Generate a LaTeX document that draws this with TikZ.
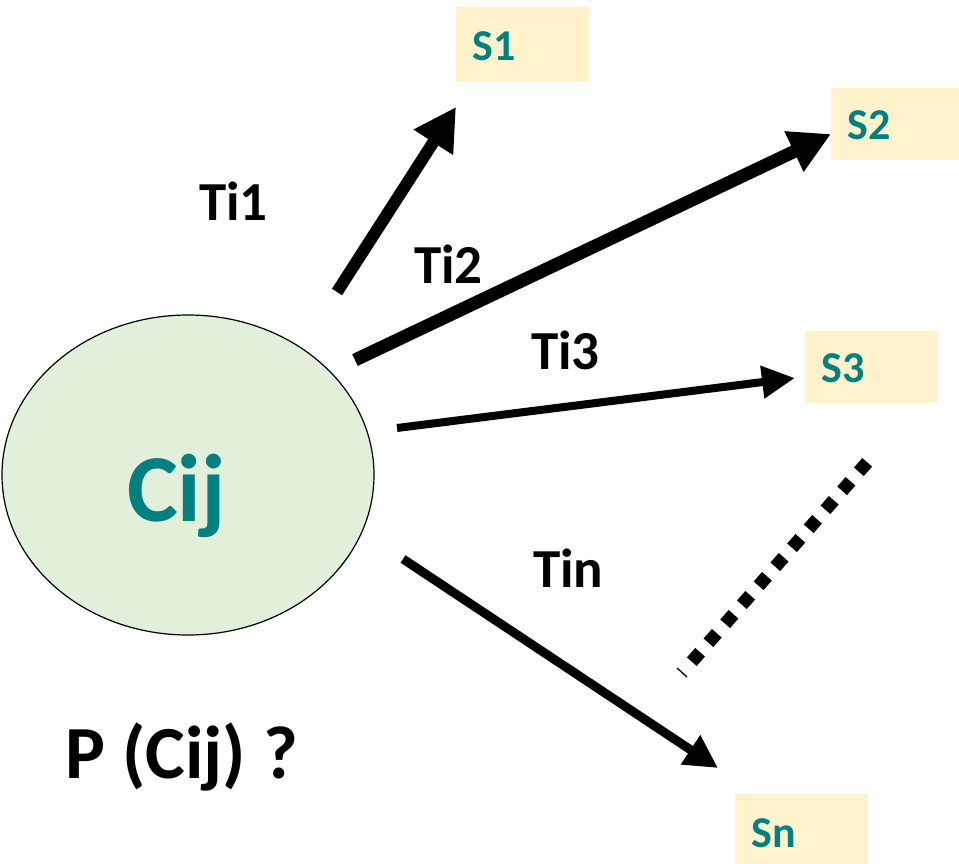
\documentclass[tikz,border=0pt]{standalone}
\usepackage{fontspec}
\setmainfont{Carlito}
\usetikzlibrary{arrows.meta,shapes.geometric}
\definecolor{tealtext}{HTML}{008080}
\definecolor{statefill}{HTML}{FFF2CC}
\definecolor{classfill}{HTML}{E2EFDA}
\tikzset{
  statebox/.style={fill=statefill, draw=none, minimum width=#1, minimum height=72pt, inner sep=0pt},
  statelabel/.style={anchor=base west, inner sep=0pt, text=tealtext, font=\fontsize{44}{44}\selectfont\bfseries},
  translabel/.style={anchor=base west, inner sep=0pt, font=\fontsize{55}{55}\selectfont\bfseries},
  transarrow/.style={draw=black, line width=#1, line cap=butt},
}
\begin{document}
\begin{tikzpicture}[x=1pt,y=-1pt]
  \useasboundingbox (0,0) rectangle (959,864);

  % central class
  \node (cij) [ellipse, draw=black, line width=1.2pt, fill=classfill,
        minimum width=372pt, minimum height=320pt, inner sep=0pt] at (188,475) {};
  \node (cijlabel) [anchor=base west, inner sep=0pt, text=tealtext,
        font=\fontsize{96}{96}\selectfont\bfseries] at (127,521) {Cij};

  % target states
  \node (s1) [statebox=133pt, anchor=north west, minimum height=75pt] at (456,7) {};
  \node (s2) [statebox=130pt, anchor=north west] at (831,88) {};
  \node (s3) [statebox=133pt, anchor=north west] at (805,331) {};
  \node (sn) [statebox=133pt, anchor=north west, minimum height=70pt] at (735,794) {};
  \node (s1t) [statelabel] at (472,61) {S1};
  \node (s2t) [statelabel] at (847,140) {S2};
  \node (s3t) [statelabel] at (821,382) {S3};
  \node (snt) [statelabel] at (751,847) {Sn};

  % arrow ends
  \coordinate (t1a) at (337,292);
  \coordinate (t1b) at (456,107);
  \coordinate (t2a) at (355,360);
  \coordinate (t2b) at (831,134);
  \coordinate (t3a) at (397,428);
  \coordinate (t3b) at (795,378);
  \coordinate (tna) at (403,559);
  \coordinate (tnb) at (718,768);
  \coordinate (da) at (867.2,462.3);
  \coordinate (db) at (691.8,661.7);
  \coordinate (ka) at (677,668);
  \coordinate (kb) at (687,677);

  % transitions
  \draw[transarrow=12pt, -{Triangle[length=42pt,width=44pt]}] (t1a) -- (t1b);
  \draw[transarrow=13pt, -{Triangle[length=41pt,width=42pt]}] (t2a) -- (t2b);
  \draw[transarrow=8pt, -{Triangle[length=33pt,width=31pt]}] (t3a) -- (t3b);
  \draw[transarrow=9pt, -{Triangle[length=33pt,width=33pt]}] (tna) -- (tnb);
  \draw[line width=13pt, dash pattern=on 12.65pt off 12.65pt] (da) -- (db);
  \draw[line width=1.3pt] (ka) -- (kb);

  % transition labels
  \node (ti1) [translabel] at (199,220) {Ti1};
  \node (ti2) [translabel] at (414,283) {Ti2};
  \node (ti3) [translabel] at (531,369) {Ti3};
  \node (tin) [translabel] at (533,587) {Tin};

  \node (pq) [anchor=base west, inner sep=0pt,
        font=\fontsize{75}{75}\selectfont\bfseries] at (65,778) {P (Cij) ?};
\end{tikzpicture}
\end{document}
